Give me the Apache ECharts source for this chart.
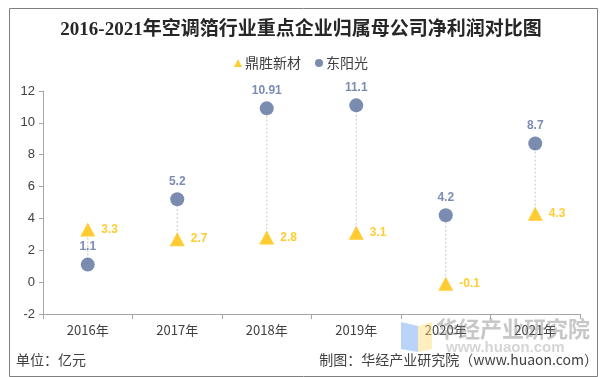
<!DOCTYPE html>
<html><head><meta charset="utf-8">
<script src="https://cdn.jsdelivr.net/npm/echarts@6/dist/echarts.min.js"></script>
<style>html,body{margin:0;padding:0;background:#fff}#c{width:602px;height:377px}</style>
</head><body><div id="c"></div>
<script>
const categories = ['2016年','2017年','2018年','2019年','2020年','2021年'];
const dingsheng = [3.3, 2.7, 2.8, 3.1, -0.1, 4.3];
const dongyangguang = [1.1, 5.2, 10.91, 11.1, 4.2, 8.7];
const yTicks = [-2, 0, 2, 4, 6, 8, 10, 12];

const chart = echarts.init(document.getElementById('c'), null, {renderer: 'canvas'});
const CJK = '"Noto Sans CJK SC", "Liberation Sans", sans-serif';
const NUM = '"Liberation Sans", Arial, "Noto Sans CJK SC", sans-serif';
const gold = '#ffc000';
const blue = '#5a6f9e';

chart.setOption({
  animation: false,
  backgroundColor: '#fff',
  title: {
    text: '2016-2021年空调箔行业重点企业归属母公司净利润对比图',
    left: 'center', top: 16,
    textStyle: {fontFamily: '"Liberation Serif", "Noto Sans CJK SC", serif', fontWeight: 'bold', fontSize: 19, color: '#262626'}
  },
  legend: {
    top: 51, left: 'center', itemGap: 14, itemWidth: 8, itemHeight: 8,
    textStyle: {fontFamily: CJK, fontSize: 14, color: '#404040', padding: [0,0,0,-2]},
    data: [{name: '鼎胜新材', icon: 'triangle'}, {name: '东阳光', icon: 'circle'}]
  },
  grid: {left: 43, right: 22, top: 91, bottom: 63},
  xAxis: {
    type: 'category', data: categories, boundaryGap: true,
    axisLine: {onZero: false, lineStyle: {color: '#a6a6a6'}},
    axisTick: {show: true, length: 5, inside: false, lineStyle: {color: '#a6a6a6'}},
    axisLabel: {fontFamily: CJK, fontSize: 13, color: '#404040', margin: 10}
  },
  yAxis: {
    type: 'value', min: yTicks[0], max: yTicks[yTicks.length-1], interval: 2,
    axisLine: {show: true, lineStyle: {color: '#a6a6a6'}},
    axisTick: {show: true, length: 4, lineStyle: {color: '#a6a6a6'}},
    splitLine: {show: false},
    axisLabel: {fontFamily: NUM, fontSize: 13, color: '#404040', margin: 8}
  },
  series: [
    {
      type: 'custom', name: 'hilo', silent: true, z: 1,
      data: categories.map((c, i) => [i, dingsheng[i], dongyangguang[i]]),
      renderItem: function (params, api) {
        const a = api.coord([api.value(0), api.value(1)]);
        const b = api.coord([api.value(0), api.value(2)]);
        return {type: 'line', shape: {x1: a[0], y1: a[1], x2: b[0], y2: b[1]},
          style: {stroke: '#c8c8c8', lineWidth: 1, lineDash: [2, 2]}};
      }
    },
    {
      type: 'scatter', name: '鼎胜新材', data: dingsheng, symbol: 'triangle', symbolSize: [15, 14], z: 3,
      itemStyle: {color: gold},
      label: {show: true, position: 'right', distance: 6, color: gold, fontFamily: NUM, fontWeight: 'bold', fontSize: 12}
    },
    {
      type: 'scatter', name: '东阳光', data: dongyangguang, symbol: 'circle', symbolSize: 14, z: 3,
      itemStyle: {color: blue},
      label: {show: true, position: 'top', distance: 5, color: blue, fontFamily: NUM, fontWeight: 'bold', fontSize: 12}
    }
  ],
  graphic: [
    {type: 'rect', left: 7, top: 6, shape: {width: 588, height: 368}, style: {fill: 'none', stroke: '#7f7f7f', lineWidth: 1}, silent: true, z: -10},
    {type: 'text', left: 16, top: 353, style: {text: '单位：亿元', font: '14px ' + CJK, fill: '#404040'}},
    {type: 'text', right: 4, top: 353, style: {text: '制图：华经产业研究院（www.huaon.com）', font: '14px ' + CJK, fill: '#404040'}},
    {type: 'polygon', shape: {points: [[401,322],[418,326],[418,352],[401,349]]}, style: {fill: 'rgba(100,160,240,0.45)'}, z: 5},
    {type: 'polygon', shape: {points: [[418,326],[432,322],[432,349],[418,352]]}, style: {fill: 'rgba(255,220,110,0.45)'}, z: 5},
    {type: 'text', left: 436, top: 318, style: {text: '华经产业研究院', font: 'bold 22px ' + CJK, fill: 'rgba(130,130,130,0.45)'}, z: 5},
    {type: 'text', left: 446, top: 340, style: {text: 'www.huaon.com', font: 'bold 15px ' + NUM, fill: 'rgba(150,150,150,0.4)'}, z: 5}
  ]
});
</script></body></html>
